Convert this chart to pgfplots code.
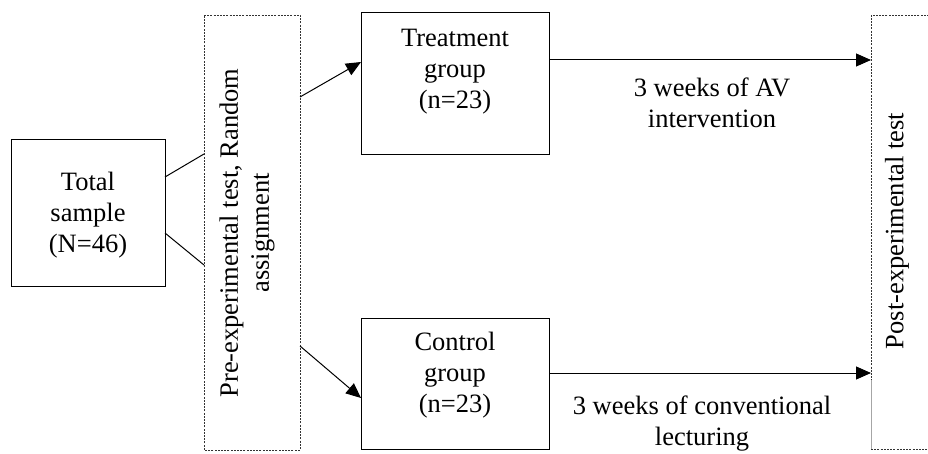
\documentclass[border=0pt]{standalone}
\usepackage{pgfplots}
\pgfplotsset{compat=1.18}
\usepackage{fontspec}
\setmainfont{Liberation Serif}
\usetikzlibrary{arrows.meta}
\begin{document}
\begin{tikzpicture}
\tikzset{txt/.style={align=center, inner sep=0pt, font=\fontsize{26.5}{31}\selectfont}}
\begin{axis}[width=928pt, height=454pt, scale only axis,
  xmin=0, xmax=928, ymin=0, ymax=454, y dir=reverse, hide axis, clip=true]
% solid boxes
\addplot[black, line width=1pt, line join=miter, mark=none] coordinates {(11,140)(165,140)(165,286)(11,286)(11,140)};
\addplot[black, line width=1pt, line join=miter, mark=none] coordinates {(361,13)(549,13)(549,155)(361,155)(361,13)};
\addplot[black, line width=1pt, line join=miter, mark=none] coordinates {(361,318)(549,318)(549,449)(361,449)(361,318)};
% dashed boxes
\addplot[black!80, line width=0.8pt, dash pattern=on 2pt off 1.2pt, mark=none] coordinates {(204,15)(300,15)(300,450)(204,450)(204,15)};
\addplot[black!80, line width=0.8pt, dash pattern=on 2pt off 1.2pt, mark=none] coordinates {(945,15)(871,15)(871,380)};
\addplot[black!35, line width=0.8pt, mark=none] coordinates {(871,380)(871,449)};
\addplot[black!80, line width=0.8pt, dash pattern=on 2pt off 1.2pt, mark=none] coordinates {(871,449)(945,449)};
% connectors
\addplot[black, line width=1pt, mark=none] coordinates {(165,177)(204,154)};
\addplot[black, line width=1pt, mark=none] coordinates {(165,233)(204,265)};
\addplot[black, line width=1pt, mark=none, -{Triangle[length=15pt,width=13pt]}] coordinates {(300,97)(361,62)};
\addplot[black, line width=1pt, mark=none, -{Triangle[length=15pt,width=13pt]}] coordinates {(300,346)(361,398)};
\addplot[black, line width=1pt, mark=none, -{Triangle[length=15pt,width=13pt]}] coordinates {(549,60)(871,60)};
\addplot[black, line width=1pt, mark=none, -{Triangle[length=15pt,width=13pt]}] coordinates {(549,373)(871,373)};
% texts
\node[txt] at (axis cs:88,215) {Total\\sample\\(N=46)};
\node[txt] at (axis cs:455,72) {Treatment\\group\\(n=23)};
\node[txt] at (axis cs:455,375) {Control\\group\\(n=23)};
\node[txt] at (axis cs:712,103) {3 weeks of AV\\intervention};
\node[txt] at (axis cs:702,424) {3 weeks of conventional\\lecturing};
\node[txt, rotate=90] at (axis cs:247,233) {Pre-experimental test, Random\\assignment};
\node[txt, rotate=90] at (axis cs:897,231) {Post-experimental test};
\coordinate (sw) at (axis cs:0,454);
\coordinate (ne) at (axis cs:928,0);
\end{axis}
\pgfresetboundingbox
\useasboundingbox (sw) rectangle (ne);
\end{tikzpicture}
\end{document}
